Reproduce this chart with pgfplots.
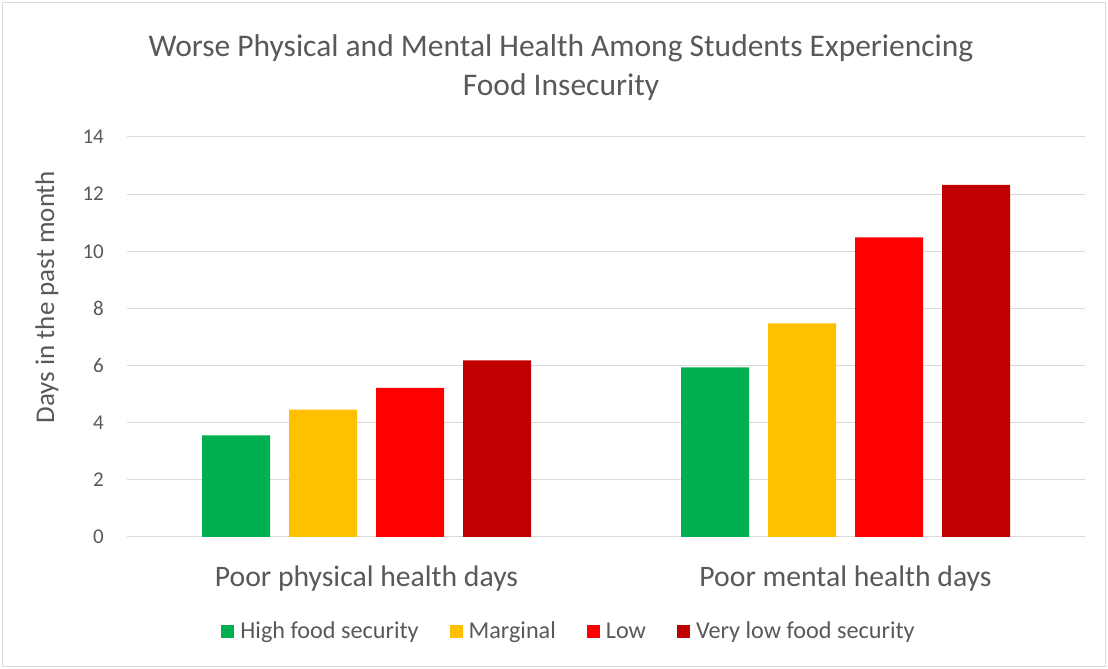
\documentclass[border=0pt]{standalone}
\usepackage{fontspec}
\setmainfont{Carlito}
\usepackage{pgfplots}
\pgfplotsset{compat=1.18}
\definecolor{txt}{HTML}{595959}
\definecolor{gridc}{HTML}{D9D9D9}
\definecolor{cHigh}{HTML}{00B050}
\definecolor{cMarg}{HTML}{FFC000}
\definecolor{cLow}{HTML}{FF0000}
\definecolor{cVlow}{HTML}{C00000}

\begin{document}
\begin{tikzpicture}
\useasboundingbox (0pt,0pt) rectangle (1108pt,669pt);
\fill[white] (0pt,0pt) rectangle (1108pt,669pt);
\draw[gridc, line width=1pt] (2.5pt,2.5pt) rectangle (1105.5pt,666.5pt);
% chart title
\node[txt, align=center, font=\fontsize{31.5}{39}\selectfont] at (561pt,601pt)
  {Worse Physical and Mental Health Among Students Experiencing\\Food Insecurity};
% value axis title
\node[txt, rotate=90, font=\fontsize{27}{31}\selectfont] at (47pt,372pt) {Days in the past month};

\begin{axis}[
  at={(127pt,132pt)}, anchor=south west,
  scale only axis, width=958pt, height=400pt,
  xmin=-0.5, xmax=1.5, ymin=0, ymax=14,
  ytick={0,2,...,14},
  xtick={0,1},
  xticklabels={Poor physical health days, Poor mental health days},
  /pgf/number format/assume math mode=true,
  ymajorgrids, grid style={gridc, line width=1pt},
  axis line style={draw=none},
  major tick length=0pt,
  yticklabel style={font=\fontsize{21}{25}\selectfont, text=txt, anchor=east, inner sep=0pt, xshift=-23pt},
  xticklabel style={font=\fontsize{29.7}{34}\selectfont, text=txt, anchor=base, inner sep=0pt, yshift=-49pt},
  ybar=19pt, bar width=68pt,
  legend columns=4,
  legend cell align=left,
  legend image code/.code={\fill[#1] (0pt,-6.5pt) rectangle (13pt,6.5pt);},
  legend style={draw=none, fill=none, at={(axis description cs:0.4614,-0.235)}, anchor=center,
    font=\fontsize{24.2}{28}\selectfont, text=txt,
    /tikz/every odd column/.append style={column sep=4pt},
    /tikz/every even column/.append style={column sep=29pt}},
]
\addplot[fill=cHigh, draw=none] coordinates {(0,3.56) (1,5.94)};
\addplot[fill=cMarg, draw=none] coordinates {(0,4.46) (1,7.48)};
\addplot[fill=cLow, draw=none] coordinates {(0,5.22) (1,10.49)};
\addplot[fill=cVlow, draw=none] coordinates {(0,6.18) (1,12.32)};
\legend{High food security, Marginal, Low, Very low food security}
\end{axis}
\end{tikzpicture}
\end{document}
